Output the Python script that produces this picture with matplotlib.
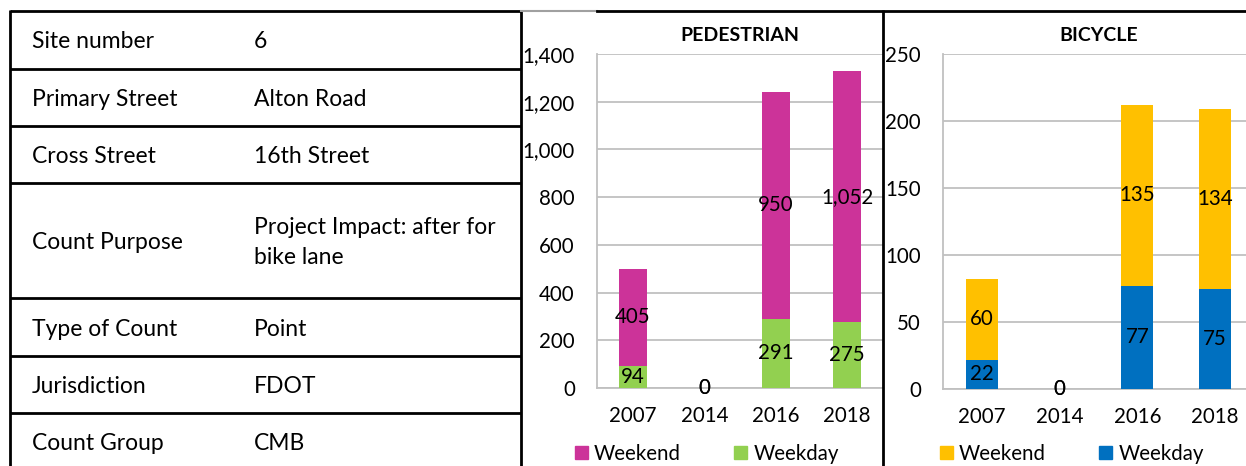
import matplotlib
matplotlib.use("Agg")
import matplotlib.pyplot as plt
from matplotlib.lines import Line2D
from matplotlib.patches import Patch

plt.rcParams['font.family'] = ['Lato', 'DejaVu Sans']

# ---------------- data ----------------
years = ["2007", "2014", "2016", "2018"]
ped_weekday = [94, 0, 291, 275]
ped_weekend = [405, 0, 950, 1052]
bic_weekday = [22, 0, 77, 75]
bic_weekend = [60, 0, 135, 134]
ped_ticks = [0, 200, 400, 600, 800, 1000, 1200, 1400]
bic_ticks = [0, 50, 100, 150, 200, 250]

table_labels = ["Site number", "Primary Street", "Cross Street", "Count Purpose",
                "Type of Count", "Jurisdiction", "Count Group"]
table_values = ["6", "Alton Road", "16th Street", "Project Impact: after for\nbike lane",
                "Point", "FDOT", "CMB"]

W, H = 1246, 466
fig = plt.figure(figsize=(W / 100, H / 100), dpi=100)
fig.patch.set_facecolor("white")


def fx(px):
    return px / W


def fy(py):
    return 1 - py / H


# ---------------- table ----------------
row_edges = [11, 69, 126, 183, 298, 356, 413, 472]
lw_tab = 2.0
for yb in row_edges:
    fig.add_artist(Line2D([fx(10), fx(521)], [fy(yb), fy(yb)], color="black", lw=lw_tab,
                          transform=fig.transFigure, solid_capstyle="butt"))
for xv in [10, 521, 883]:
    fig.add_artist(Line2D([fx(xv), fx(xv)], [fy(10), fy(470)], color="black", lw=lw_tab,
                          transform=fig.transFigure, solid_capstyle="butt"))
fig.add_artist(Line2D([fx(521), fx(597)], [fy(10.5), fy(10.5)], color="#A0A0A0", lw=1.5,
                      transform=fig.transFigure))
fig.add_artist(Line2D([fx(597), fx(1246)], [fy(11), fy(11)], color="black", lw=lw_tab,
                      transform=fig.transFigure))

tab_fs = 16.5
for i, (lab, val) in enumerate(zip(table_labels, table_values)):
    yc = (row_edges[i] + row_edges[i + 1]) / 2 + 2
    if i == len(table_labels) - 1:
        yc = 444
    fig.text(fx(32), fy(yc), lab, fontsize=tab_fs, va="center", ha="left")
    fig.text(fx(254), fy(yc), val, fontsize=tab_fs, va="center", ha="left",
             linespacing=1.55)

# ---------------- charts ----------------
grid_col = "#C0C0C0"
lab_fs = 14.8


def chart(ax, wd, we, c_wd, c_we, ticks, title, width, leg_x):
    x = list(range(len(years)))
    b1 = ax.bar(x, wd, width, color=c_wd, zorder=3)
    b2 = ax.bar(x, we, width, bottom=wd, color=c_we, zorder=3)
    ax.bar_label(b1, labels=[f"{v:,}" for v in wd], label_type="center", fontsize=lab_fs,
                 color="black", zorder=4)
    ax.bar_label(b2, labels=[f"{v:,}" for v in we], label_type="center", fontsize=lab_fs,
                 color="black", zorder=4)
    ax.set_xlim(-0.5, len(years) - 0.5)
    ax.set_ylim(ticks[0], ticks[-1])
    ax.set_yticks(ticks)
    ax.set_yticklabels([f"{t:,}" for t in ticks])
    ax.set_xticks(x)
    ax.set_xticklabels(years)
    ax.tick_params(axis="both", length=0, labelsize=lab_fs)
    ax.tick_params(axis="y", pad=16)
    ax.tick_params(axis="x", pad=13)
    ax.yaxis.grid(True, color=grid_col, lw=1.3, zorder=0)
    ax.set_axisbelow(True)
    for s in ["top", "right"]:
        ax.spines[s].set_visible(False)
    for s in ["left", "bottom"]:
        ax.spines[s].set_color(grid_col)
        ax.spines[s].set_linewidth(1.3)
    ax.text(0.5, 1.055, title, transform=ax.transAxes, ha="center", va="center",
            fontsize=14, fontweight="bold")
    handles = [Patch(color=c_we, label="Weekend"), Patch(color=c_wd, label="Weekday")]
    ax.legend(handles=handles, loc="center left", bbox_to_anchor=(fx(leg_x), fy(454)),
              bbox_transform=fig.transFigure, ncol=2, frameon=False, fontsize=lab_fs,
              handlelength=0.62, handleheight=0.62, handletextpad=0.3,
              columnspacing=2.6, borderpad=0, borderaxespad=0)


ax1 = fig.add_axes([fx(597), 1 - 388 / H, (883 - 597) / W, (388 - 54) / H])
chart(ax1, ped_weekday, ped_weekend, "#92D050", "#CC3399", ped_ticks, "PEDESTRIAN", 0.39, 575)

ax2 = fig.add_axes([fx(943), 1 - 389 / H, (1254 - 943) / W, (389 - 54) / H])
chart(ax2, bic_weekday, bic_weekend, "#0070C0", "#FFC000", bic_ticks, "BICYCLE", 0.41, 940)

fig.savefig("out.png", dpi=100, facecolor="white")
